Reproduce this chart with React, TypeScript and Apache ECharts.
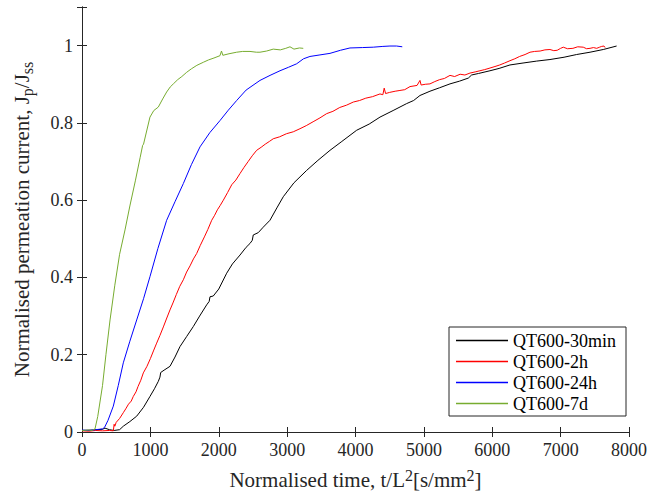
import React, { useEffect, useRef } from "react";
import * as echarts from "echarts";

const seriesNames = ["QT600-30min", "QT600-2h", "QT600-24h", "QT600-7d"];
const seriesColors = ["#000000", "#FF0000", "#0000FF", "#77AC30"];

const x30min = [0, 150, 300, 336, 400, 470, 550, 604, 700, 800, 900, 994, 1060, 1116, 1140, 1151, 1200, 1287, 1360, 1433, 1530, 1628, 1720, 1823, 1860, 1872, 1920, 2000, 2116, 2200, 2311, 2400, 2457, 2490, 2505, 2578, 2650, 2749, 2850, 2944, 3100, 3285, 3450, 3627, 3800, 4017, 4200, 4358, 4550, 4748, 4850, 4943, 5089, 5230, 5382, 5520, 5650, 5698, 5800, 5967, 6100, 6259, 6450, 6650, 6844, 7050, 7234, 7430, 7624, 7819];
const y30min = [0.004, 0.005, 0.007, 0.01, 0.006, 0.004, 0.006, 0.015, 0.027, 0.041, 0.064, 0.092, 0.112, 0.131, 0.142, 0.154, 0.16, 0.17, 0.194, 0.221, 0.247, 0.273, 0.3, 0.329, 0.338, 0.35, 0.352, 0.37, 0.411, 0.435, 0.458, 0.478, 0.488, 0.496, 0.51, 0.516, 0.53, 0.548, 0.58, 0.609, 0.645, 0.677, 0.703, 0.729, 0.752, 0.781, 0.797, 0.815, 0.832, 0.85, 0.858, 0.871, 0.882, 0.891, 0.901, 0.908, 0.916, 0.924, 0.928, 0.935, 0.941, 0.95, 0.955, 0.96, 0.964, 0.97, 0.977, 0.983, 0.99, 0.999];

const x2h = [0, 100, 200, 300, 400, 458, 470, 480, 500, 550, 604, 640, 680, 720, 750, 790, 820, 860, 897, 950, 1000, 1050, 1092, 1140, 1190, 1240, 1287, 1330, 1380, 1430, 1482, 1530, 1580, 1630, 1677, 1730, 1790, 1840, 1897, 1940, 1980, 2020, 2067, 2130, 2190, 2250, 2311, 2370, 2430, 2490, 2554, 2620, 2680, 2740, 2797, 2890, 2990, 3090, 3188, 3280, 3380, 3480, 3578, 3670, 3770, 3870, 3968, 4060, 4150, 4250, 4358, 4400, 4420, 4440, 4500, 4580, 4650, 4720, 4797, 4900, 4943, 4960, 5020, 5089, 5160, 5230, 5300, 5382, 5450, 5530, 5600, 5674, 5750, 5820, 5890, 5967, 6040, 6110, 6180, 6259, 6330, 6400, 6480, 6552, 6620, 6700, 6770, 6844, 6900, 6950, 7000, 7039, 7100, 7180, 7250, 7331, 7380, 7430, 7480, 7527, 7570, 7600, 7634, 7650];
const y2h = [0.003, 0.002, 0.004, 0.003, 0.004, 0.003, 0.02, 0.015, 0.025, 0.035, 0.05, 0.06, 0.072, 0.08, 0.092, 0.104, 0.118, 0.134, 0.153, 0.17, 0.19, 0.212, 0.23, 0.25, 0.272, 0.295, 0.316, 0.334, 0.356, 0.377, 0.394, 0.414, 0.43, 0.448, 0.462, 0.483, 0.505, 0.524, 0.548, 0.561, 0.575, 0.586, 0.6, 0.62, 0.64, 0.652, 0.669, 0.685, 0.7, 0.715, 0.729, 0.737, 0.745, 0.752, 0.759, 0.764, 0.772, 0.777, 0.785, 0.793, 0.803, 0.813, 0.824, 0.83, 0.84, 0.846, 0.854, 0.858, 0.864, 0.868, 0.875, 0.873, 0.89, 0.876, 0.879, 0.882, 0.884, 0.886, 0.894, 0.897, 0.91, 0.898, 0.9, 0.901, 0.907, 0.912, 0.915, 0.923, 0.92, 0.926, 0.924, 0.929, 0.932, 0.935, 0.938, 0.942, 0.946, 0.95, 0.955, 0.961, 0.966, 0.972, 0.977, 0.983, 0.985, 0.986, 0.989, 0.99, 0.987, 0.988, 0.993, 0.996, 0.992, 0.993, 0.997, 0.996, 0.992, 0.993, 0.995, 0.993, 0.996, 0.998, 0.999, 0.995];

const x24h = [0, 100, 200, 300, 330, 380, 458, 530, 604, 700, 800, 900, 994, 1110, 1238, 1360, 1482, 1600, 1726, 1870, 2018, 2140, 2262, 2400, 2603, 2750, 2896, 3020, 3139, 3240, 3334, 3480, 3627, 3780, 3919, 4100, 4260, 4400, 4504, 4600, 4684];
const y24h = [0.005, 0.004, 0.006, 0.008, 0.012, 0.03, 0.067, 0.12, 0.179, 0.235, 0.29, 0.345, 0.402, 0.475, 0.548, 0.596, 0.643, 0.692, 0.738, 0.775, 0.806, 0.833, 0.858, 0.885, 0.91, 0.923, 0.935, 0.944, 0.953, 0.966, 0.972, 0.976, 0.98, 0.988, 0.994, 0.995, 0.996, 0.998, 0.999, 0.999, 0.997];

const x7d = [0, 100, 150, 190, 230, 300, 350, 410, 480, 550, 629, 700, 780, 850, 887, 900, 994, 1050, 1116, 1180, 1238, 1290, 1336, 1400, 1460, 1531, 1600, 1680, 1775, 1850, 1930, 2018, 2040, 2060, 2150, 2262, 2350, 2457, 2550, 2603, 2700, 2797, 2900, 2980, 3042, 3100, 3180, 3236];
const y7d = [0.004, 0.005, 0.004, 0.008, 0.04, 0.12, 0.2, 0.29, 0.38, 0.46, 0.523, 0.585, 0.65, 0.71, 0.742, 0.745, 0.815, 0.832, 0.841, 0.862, 0.88, 0.893, 0.901, 0.912, 0.92, 0.931, 0.94, 0.949, 0.957, 0.963, 0.968, 0.974, 0.986, 0.975, 0.979, 0.983, 0.985, 0.985, 0.983, 0.983, 0.986, 0.991, 0.989, 0.993, 0.997, 0.991, 0.994, 0.993];

const xTicks = [0, 1000, 2000, 3000, 4000, 5000, 6000, 7000, 8000];
const yTickLabels = ["0", "0.2", "0.4", "0.6", "0.8", "1"];

const seriesX = [x30min, x2h, x24h, x7d];
const seriesY = [y30min, y2h, y24h, y7d];

const FONT = "'Liberation Serif', 'Times New Roman', serif";
const AXIS_COLOR = "#262626";

export default function App() {
  const ref = useRef<HTMLDivElement>(null);
  useEffect(() => {
    if (!ref.current) return;
    const chart = echarts.init(ref.current, null, { renderer: "svg" });
    const axisCommon = {
      axisLine: { show: true, lineStyle: { color: AXIS_COLOR, width: 1 } },
      axisTick: { show: true, inside: true, length: 5, lineStyle: { color: AXIS_COLOR } },
      splitLine: { show: false },
    };
    chart.setOption({
      animation: false,
      backgroundColor: "#ffffff",
      textStyle: { fontFamily: FONT },
      grid: { left: 82, right: 21, top: 7, bottom: 67, containLabel: false },
      legend: {
        orient: "vertical",
        right: 24,
        top: 327,
        padding: [3, 10, 2, 7],
        itemWidth: 52,
        itemHeight: 1.5,
        itemGap: 0,
        icon: "rect",
        borderColor: AXIS_COLOR,
        borderWidth: 1,
        backgroundColor: "#ffffff",
        textStyle: { fontFamily: FONT, fontSize: 18, color: "#000", lineHeight: 21 },
        data: seriesNames,
      },
      xAxis: [
        {
          type: "value",
          min: xTicks[0],
          max: xTicks[xTicks.length - 1],
          interval: xTicks[1] - xTicks[0],
          ...axisCommon,
          axisLabel: {
            fontFamily: FONT,
            fontSize: 18,
            color: "#262626",
            margin: 9,
            formatter: (v: number) => String(Math.round(v)),
          },
          name: "{a|Normalised time, t/L}{s|2}{a|[s/mm}{s|2}{a|]}",
          nameLocation: "middle",
          nameGap: 35,
          nameTextStyle: {
            fontFamily: FONT,
            color: "#262626",
            rich: {
              a: { fontFamily: FONT, fontSize: 21, lineHeight: 26, color: "#262626" },
              s: { fontFamily: FONT, fontSize: 16, lineHeight: 26, padding: [0, 0, 10, 0], color: "#262626" },
            },
          },
        },
        {
          type: "value",
          position: "top",
          min: xTicks[0],
          max: xTicks[xTicks.length - 1],
          interval: xTicks[1] - xTicks[0],
          ...axisCommon,
          axisLabel: { show: false },
        },
      ],
      yAxis: [
        {
          type: "value",
          min: 0,
          max: 1.1,
          interval: 0.2,
          ...axisCommon,
          axisLabel: {
            fontFamily: FONT,
            fontSize: 18,
            color: "#262626",
            margin: 9,
            formatter: (v: number) => {
              const i = Math.round(v / 0.2);
              return Math.abs(v - i * 0.2) < 1e-6 && i < yTickLabels.length ? yTickLabels[i] : "";
            },
          },
          name: "{a|Normalised permeation current, J}{b|p}{a|/J}{b|ss}",
          nameLocation: "middle",
          nameGap: 47,
          nameTextStyle: {
            fontFamily: FONT,
            color: "#262626",
            rich: {
              a: { fontFamily: FONT, fontSize: 21, lineHeight: 26, color: "#262626" },
              b: { fontFamily: FONT, fontSize: 16, lineHeight: 26, padding: [10, 0, 0, 0], color: "#262626" },
            },
          },
        },
        {
          type: "value",
          position: "right",
          min: 0,
          max: 1.1,
          interval: 0.2,
          ...axisCommon,
          axisLabel: { show: false },
        },
      ],
      series: seriesNames.map((name, k) => ({
        name,
        type: "line",
        xAxisIndex: 0,
        yAxisIndex: 0,
        showSymbol: false,
        symbol: "none",
        lineStyle: { color: seriesColors[k], width: 1 },
        itemStyle: { color: seriesColors[k] },
        data: seriesX[k].map((x, i) => [x, seriesY[k][i]]),
      })),
    });
    return () => chart.dispose();
  }, []);
  return <div ref={ref} style={{ width: 650, height: 499, position: "absolute", left: 0, top: 0 }} />;
}
